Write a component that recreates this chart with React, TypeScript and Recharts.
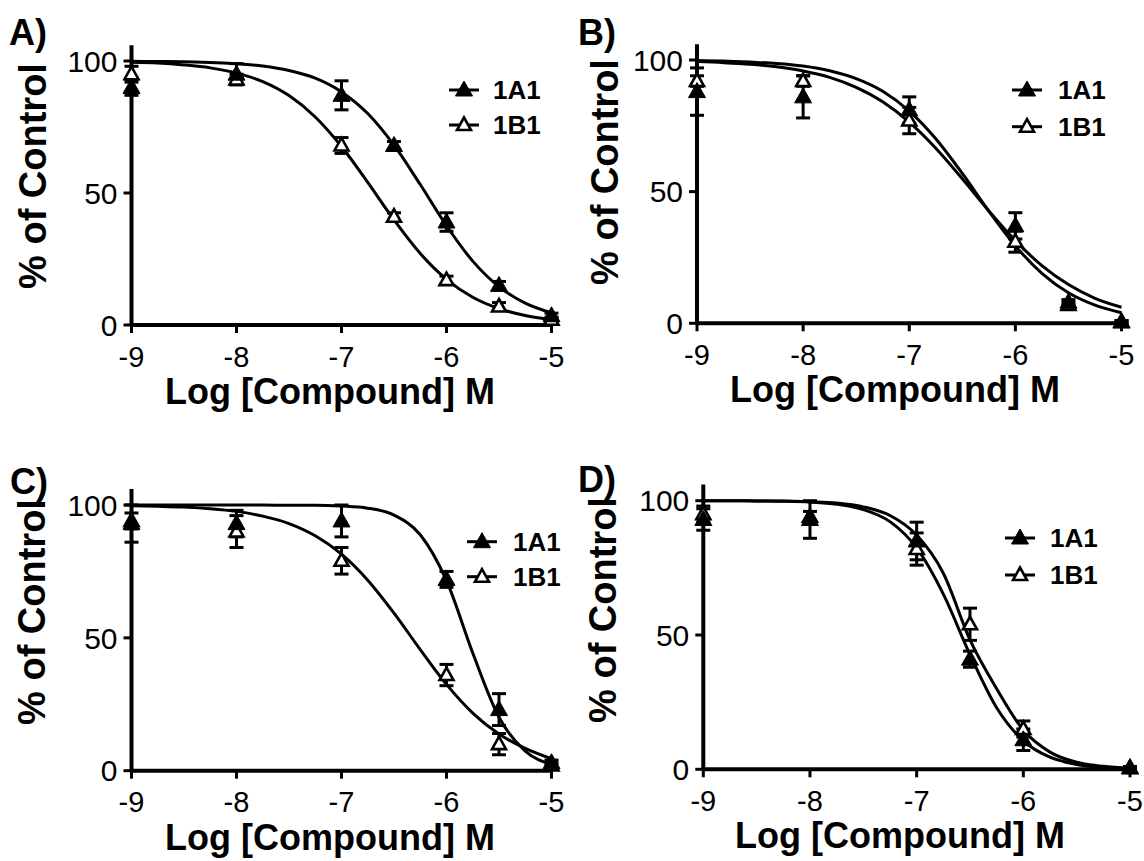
import React from 'react';
import { ComposedChart, Line, Scatter, XAxis, YAxis, ErrorBar, Customized } from 'recharts';

const FONT = "'Liberation Sans', Arial, Helvetica, sans-serif";

const xTicks = [-9, -8, -7, -6, -5];
const yTicks = [0, 50, 100];
const seriesNames = ['1A1', '1B1'];
const panelLetters = ['A)', 'B)', 'C)', 'D)'];
const xTitle = 'Log [Compound] M';
const yTitle = '% of Control';

// x positions of the drawn fitted curves (read every 0.25 log unit)
const curveX = [-9, -8.75, -8.5, -8.25, -8, -7.75, -7.5, -7.25, -7, -6.75, -6.5, -6.25, -6, -5.75, -5.5, -5.25, -5];

// Panel A
const aX = [-9, -8, -7, -6.5, -6, -5.5, -5];
const a1A1 = [90, 95, 87, 68, 39, 15, 3.5];
const a1A1Err = [3, 4, 5.5, 1.5, 3.5, 1.5, 1];
const a1B1 = [95, 93, 68, 41, 17, 7, 2];
const a1B1Err = [3, 2, 3, 1.5, 1.5, 1.5, 1];
const aCurve1A1 = [99.9, 99.8, 99.7, 99.4, 99.0, 98.1, 96.4, 93.5, 88.3, 80.1, 68.1, 53.2, 37.6, 24.2, 14.5, 8.3, 4.6];
const aCurve1B1 = [99.5, 99.2, 98.5, 97.4, 95.4, 92.2, 86.9, 78.8, 67.6, 54.0, 39.8, 27.1, 17.3, 10.5, 6.2, 3.6, 2.0];

// Panel B
const bX = [-9, -8, -7, -6, -5.5, -5];
const b1A1 = [88, 86, 81, 37, 8, 0.5];
const b1A1Err = [9, 8, 5, 5, 1, 0.5];
const b1B1 = [92, 92, 77, 31, 7, 0.5];
const b1B1Err = [2, 2, 5, 4, 1, 0.5];
const bCurve1A1 = [99.8, 99.6, 99.2, 98.7, 97.7, 95.9, 92.9, 88.1, 80.6, 70.1, 56.9, 42.6, 29.4, 19.0, 11.6, 6.9, 4.0];
const bCurve1B1 = [99.4, 99.0, 98.4, 97.4, 95.8, 93.4, 89.6, 84.1, 76.4, 66.5, 54.9, 42.7, 31.4, 21.9, 14.7, 9.5, 6.1];

// Panel C
const cX = [-9, -8, -7, -6, -5.5, -5];
const c1A1 = [93, 93, 94, 72, 23, 3];
const c1A1Err = [7, 5, 6, 3, 6, 1];
const c1B1 = [94, 90, 79, 36, 10, 2];
const c1B1Err = [3, 6, 5, 4, 4, 1];
const cCurve1A1 = [100, 100, 100, 100, 100, 100, 99.9, 99.9, 99.6, 98.8, 96.2, 88.8, 71.5, 44.3, 20.1, 7.4, 2.4];
const cCurve1B1 = [99.7, 99.5, 99.2, 98.6, 97.6, 95.8, 93.0, 88.4, 81.5, 71.7, 59.3, 45.6, 32.5, 21.7, 13.8, 8.4, 4.5];

// Panel D
const dX = [-9, -8, -7, -6.5, -6, -5];
const d1A1 = [93, 93, 85, 41, 11, 0.5];
const d1A1Err = [4, 7, 7, 3, 4, 0.5];
const d1B1 = [95, 94, 82, 54, 15, 0.5];
const d1B1Err = [3, 2, 6, 6, 3, 0.5];
const dCurve1A1 = [100, 100, 99.9, 99.8, 99.5, 98.7, 96.7, 92.2, 82.4, 65.2, 42.7, 22.9, 10.6, 4.5, 1.8, 0.7, 0.3];
const dCurve1B1 = [100, 100, 99.9, 99.9, 99.6, 99.1, 97.7, 94.5, 87.2, 73.0, 48.2, 30.0, 14.6, 6.4, 2.6, 1.1, 0.4];

const pts = (xs: number[], ys: number[], es: number[]) => xs.map((x, i) => ({ x, y: ys[i], e: es[i] }));
const crv = (ys: number[]) => curveX.map((x, i) => ({ x, y: ys[i] }));

const CHART_W = 572;
const CHART_H = 430;
const YAXIS_W = 60;
const XAXIS_H = 60;

const FilledTri = (p: any) => {
  const { cx, cy } = p;
  if (cx == null || cy == null) return null;
  return (
    <polygon
      points={`${cx},${cy - 9} ${cx - 8.5},${cy + 6} ${cx + 8.5},${cy + 6}`}
      fill="#000"
      stroke="#000"
      strokeWidth={1}
    />
  );
};

const OpenTri = (p: any) => {
  const { cx, cy } = p;
  if (cx == null || cy == null) return null;
  return (
    <polygon
      points={`${cx},${cy - 7.5} ${cx - 7},${cy + 5} ${cx + 7},${cy + 5}`}
      fill="#fff"
      stroke="#000"
      strokeWidth={2.6}
      strokeLinejoin="miter"
    />
  );
};

type PanelCfg = {
  left: number;
  top: number;
  letter: string;
  letterX: number;
  letterY: number;
  plotLeft: number;
  plotRight: number;
  y0: number;
  y100: number;
  yTitleX: number;
  yTitleY: number;
  xTitleX: number;
  xTitleY: number;
  legX: number;
  legTextX: number;
  legY1: number;
  legY2: number;
  p1A1: { x: number; y: number; e: number }[];
  p1B1: { x: number; y: number; e: number }[];
  c1A1: { x: number; y: number }[];
  c1B1: { x: number; y: number }[];
};

const Overlay = ({ cfg }: { cfg: PanelCfg }) => (
  <g>
    <text x={cfg.letterX} y={cfg.letterY} fontFamily={FONT} fontWeight="bold" fontSize={36} fill="#000">
      {cfg.letter}
    </text>
    <text
      x={cfg.yTitleX}
      y={cfg.yTitleY}
      transform={`rotate(-90 ${cfg.yTitleX} ${cfg.yTitleY})`}
      textAnchor="middle"
      dominantBaseline="central"
      fontFamily={FONT}
      fontWeight="bold"
      fontSize={38}
      fill="#000"
    >
      {yTitle}
    </text>
    <text x={cfg.xTitleX} y={cfg.xTitleY} textAnchor="middle" fontFamily={FONT} fontWeight="bold" fontSize={36} fill="#000">
      {xTitle}
    </text>
    {[cfg.legY1, cfg.legY2].map((ly, i) => (
      <g key={i}>
        <line x1={cfg.legX - 15} x2={cfg.legX + 15} y1={ly} y2={ly} stroke="#000" strokeWidth={3} />
        {i === 0 ? <FilledTri cx={cfg.legX} cy={ly} /> : <OpenTri cx={cfg.legX} cy={ly} />}
        <text x={cfg.legTextX} y={ly} dominantBaseline="central" fontFamily={FONT} fontWeight="bold" fontSize={26} fill="#000">
          {seriesNames[i]}
        </text>
      </g>
    ))}
  </g>
);

const Panel = ({ cfg }: { cfg: PanelCfg }) => {
  const unit = (cfg.y0 - cfg.y100) / 100;
  const yTopPx = cfg.y100 - 6 * unit;
  const margin = {
    top: yTopPx,
    bottom: CHART_H - cfg.y0 - XAXIS_H,
    left: cfg.plotLeft - YAXIS_W,
    right: CHART_W - cfg.plotRight,
  };
  return (
    <div style={{ position: 'absolute', left: cfg.left, top: cfg.top, width: CHART_W, height: CHART_H }}>
      <ComposedChart width={CHART_W} height={CHART_H} margin={margin}>
        <XAxis
          type="number"
          dataKey="x"
          domain={[-9, -5]}
          ticks={xTicks}
          interval={0}
          height={XAXIS_H}
          tickSize={8}
          tickMargin={13}
          axisLine={{ stroke: '#000', strokeWidth: 4 }}
          tickLine={{ stroke: '#000', strokeWidth: 3 }}
          tick={{ fill: '#000', fontSize: 29, fontFamily: FONT }}
        />
        <YAxis
          type="number"
          dataKey="y"
          domain={[0, 106]}
          ticks={yTicks}
          interval={0}
          width={YAXIS_W}
          tickSize={8}
          tickMargin={6}
          axisLine={{ stroke: '#000', strokeWidth: 4 }}
          tickLine={{ stroke: '#000', strokeWidth: 3 }}
          tick={{ fill: '#000', fontSize: 30, fontFamily: FONT }}
        />
        <Line data={cfg.c1A1} dataKey="y" type="monotone" stroke="#000" strokeWidth={3} dot={false} activeDot={false} isAnimationActive={false} />
        <Line data={cfg.c1B1} dataKey="y" type="monotone" stroke="#000" strokeWidth={3} dot={false} activeDot={false} isAnimationActive={false} />
        <Scatter data={cfg.p1B1} dataKey="y" shape={(p: any) => <OpenTri {...p} />} isAnimationActive={false}>
          <ErrorBar dataKey="e" direction="y" width={7} stroke="#000" strokeWidth={3} isAnimationActive={false} />
        </Scatter>
        <Scatter data={cfg.p1A1} dataKey="y" shape={(p: any) => <FilledTri {...p} />} isAnimationActive={false}>
          <ErrorBar dataKey="e" direction="y" width={7} stroke="#000" strokeWidth={3} isAnimationActive={false} />
        </Scatter>
        <Customized component={<Overlay cfg={cfg} />} />
      </ComposedChart>
    </div>
  );
};

const panels: PanelCfg[] = [
  {
    left: 0, top: 0, letter: panelLetters[0], letterX: 9, letterY: 45,
    plotLeft: 131.5, plotRight: 551.5, y0: 325, y100: 61,
    yTitleX: 33, yTitleY: 176, xTitleX: 330, xTitleY: 404,
    legX: 464, legTextX: 493, legY1: 90, legY2: 125,
    p1A1: pts(aX, a1A1, a1A1Err), p1B1: pts(aX, a1B1, a1B1Err), c1A1: crv(aCurve1A1), c1B1: crv(aCurve1B1),
  },
  {
    left: 572, top: 0, letter: panelLetters[1], letterX: 6, letterY: 45,
    plotLeft: 125, plotRight: 549.5, y0: 323.3, y100: 60,
    yTitleX: 33, yTitleY: 172, xTitleX: 323, xTitleY: 402,
    legX: 455, legTextX: 486, legY1: 90, legY2: 126.7,
    p1A1: pts(bX, b1A1, b1A1Err), p1B1: pts(bX, b1B1, b1B1Err), c1A1: crv(bCurve1A1), c1B1: crv(bCurve1B1),
  },
  {
    left: 0, top: 430, letter: panelLetters[2], letterX: 10, letterY: 64,
    plotLeft: 131.5, plotRight: 551.5, y0: 340.7, y100: 75,
    yTitleX: 32, yTitleY: 182, xTitleX: 330, xTitleY: 420,
    legX: 482, legTextX: 513, legY1: 111.7, legY2: 146.7,
    p1A1: pts(cX, c1A1, c1A1Err), p1B1: pts(cX, c1B1, c1B1Err), c1A1: crv(cCurve1A1), c1B1: crv(cCurve1B1),
  },
  {
    left: 572, top: 430, letter: panelLetters[3], letterX: 6, letterY: 62,
    plotLeft: 131.3, plotRight: 558, y0: 339.3, y100: 70.7,
    yTitleX: 31, yTitleY: 180, xTitleX: 328, xTitleY: 418,
    legX: 448, legTextX: 478, legY1: 108, legY2: 145,
    p1A1: pts(dX, d1A1, d1A1Err), p1B1: pts(dX, d1B1, d1B1Err), c1A1: crv(dCurve1A1), c1B1: crv(dCurve1B1),
  },
];

export default function App() {
  return (
    <div style={{ position: 'absolute', left: 0, top: 0, width: 1144, height: 861, background: '#fff', fontFamily: FONT }}>
      {panels.map((cfg, i) => (
        <Panel key={i} cfg={cfg} />
      ))}
    </div>
  );
}
